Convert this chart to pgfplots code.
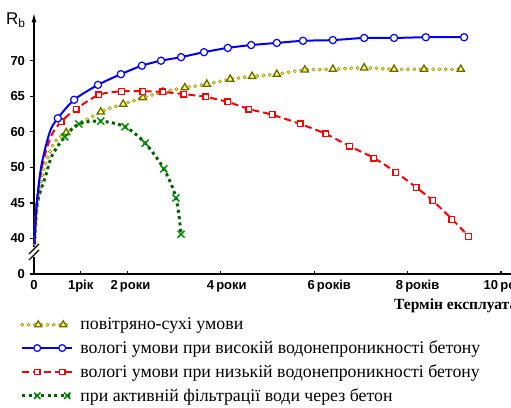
\documentclass[border=0pt]{standalone}
\usepackage{fontspec}
\setmainfont{Liberation Serif}
\setsansfont{Liberation Sans}
\usepackage{pgfplots}
\pgfplotsset{compat=1.18}
\usepackage{pgfplotstable}
\usetikzlibrary{arrows.meta}

\definecolor{myyellow}{RGB}{255,255,0}
\definecolor{myolive}{RGB}{105,105,0}
\definecolor{mygreen}{RGB}{0,140,0}
\definecolor{mydkgreen}{RGB}{0,100,0}
\definecolor{myred}{RGB}{255,0,0}
\definecolor{myblue}{RGB}{0,0,255}

% y values are in the chart's drawn scale: tick "0" at 40, "40" at 45, "45" at 50, "50" at 55, "60" at 60, "65" at 65, "70" at 70
\pgfplotstableread{
x y
0.01 44.2
0.06 50.0
0.16 55.3
0.34 60.0
0.51 61.9
0.86 64.5
1.37 66.6
1.86 68.1
2.31 69.3
2.72 70.0
3.15 70.5
3.64 71.2
4.15 71.8
4.65 72.2
5.20 72.5
5.76 72.8
6.40 72.9
7.07 73.2
7.71 73.2
8.39 73.3
9.21 73.3
}\tblue

\pgfplotstableread{
x y
0.01 44.2
0.06 50.0
0.17 55.0
0.36 59.3
0.58 61.4
0.90 63.2
1.39 65.2
1.88 65.7
2.33 65.7
2.76 65.6
3.21 65.3
3.68 64.9
4.15 64.2
4.60 63.2
5.10 62.4
5.70 61.1
6.25 59.7
6.75 58.0
7.28 56.3
7.75 54.3
8.18 52.2
8.54 50.3
8.95 47.7
9.31 45.3
}\tred

\pgfplotstableread{
x y
0.01 44.2
0.08 50.0
0.20 54.5
0.42 58.3
0.69 59.9
1.43 62.8
1.91 63.9
2.33 64.8
2.76 65.6
3.23 66.2
3.70 66.7
4.20 67.4
4.67 67.8
5.20 68.1
5.80 68.7
6.40 68.8
7.07 69.0
7.71 68.8
8.35 68.8
9.14 68.8
}\tyellow

\pgfplotstableread{
x y
0.01 44.2
0.06 49.7
0.24 53.6
0.39 56.7
0.66 59.3
0.96 61.1
1.43 61.5
1.95 60.7
2.38 58.4
2.78 54.8
3.04 50.7
3.15 45.6
}\tgreen

\tikzset{
  yelout/.style={myolive, line width=3.8pt, line cap=round, dash pattern=on 0pt off 6.3pt},
  yelin/.style={myyellow, line width=2.4pt, line cap=round, dash pattern=on 0pt off 6.3pt},
  bluel/.style={myblue, line width=2pt},
  redl/.style={myred, line width=2pt, dash pattern=on 7pt off 4pt},
  greenl/.style={mydkgreen, line width=3pt, dash pattern=on 3pt off 3.4pt},
}

\begin{document}
\begin{tikzpicture}
\useasboundingbox (0pt,0pt) rectangle (511pt,407pt);
\clip (0pt,0pt) rectangle (511pt,407pt);
\begin{axis}[
  at={(34pt,133pt)}, anchor=south west,
  x=46.7pt, y=7.11pt,
  xmin=0, xmax=10.6, ymin=40, ymax=76.8,
  axis lines=left,
  axis line style={line width=1.6pt, black},
  x axis line style={-},
  y axis line style={-{Latex[length=10pt,width=5pt]}},
  clip=false,
  xtick={0,1,2,4,6,8,10},
  xticklabels={0,1рік,\hspace*{6pt}2\,роки,\hspace*{12pt}4\,роки,\hspace*{30pt}6\,років,\hspace*{20pt}8\,років,\hspace*{16pt}10\,років},
  ytick={40,45,50,55,60,65,70},
  yticklabels={0,40,45,50,60,65,70},
  xtick align=inside, ytick align=outside,
  major tick length=3.5pt,
  tick style={line width=1.2pt, black},
  tick label style={font=\fontsize{13}{15}\selectfont\sffamily\bfseries},
  xticklabel style={anchor=north, yshift=-3pt},
  yticklabel style={anchor=east, xshift=-2pt},
  legend style={at={(-0.028,-0.16)}, anchor=north west, draw=none, fill=none,
    inner sep=0pt, font=\fontsize{17.8}{21}\selectfont, row sep=5.6pt,
    cells={anchor=west}},
  legend cell align=left,
]
% lines
\addplot[yelout, smooth, forget plot] table {\tyellow};
\addplot[yelin, smooth, forget plot] table {\tyellow};
\addplot[greenl, smooth, forget plot] table {\tgreen};
\addplot[redl, smooth, forget plot] table {\tred};
\addplot[bluel, smooth, forget plot] table {\tblue};
% marks
\addplot[only marks, mark=triangle*, mark size=4.2pt, mark options={solid, draw=myolive, fill=myyellow!55!white, line width=1.3pt}, skip coords between index={0}{4}, forget plot] table {\tyellow};
\addplot[only marks, mark=x, mark size=5pt, mark options={solid, draw=mygreen, line width=1.5pt}, skip coords between index={0}{4}, forget plot] table {\tgreen};
\addplot[only marks, mark=square*, mark size=2.9pt, mark options={solid, draw=myred, fill=white, line width=1.2pt}, skip coords between index={0}{4}, forget plot] table {\tred};
\addplot[only marks, mark=*, mark size=3.6pt, mark options={solid, draw=myblue, fill=white, line width=1.2pt}, skip coords between index={0}{4}, forget plot] table {\tblue};

\addlegendimage{legend image code/.code={
  \draw[yelout] (0pt,0pt) -- (50pt,0pt);
  \draw[yelin] (0pt,0pt) -- (50pt,0pt);
  \draw plot[only marks, mark=triangle*, mark size=4pt, mark options={draw=myolive, fill=myyellow!55!white, line width=1.2pt}] coordinates {(16pt,0pt) (41pt,0pt)};
  \path (56pt,0pt);
}}
\addlegendentry{повітряно-сухі умови}
\addlegendimage{legend image code/.code={
  \draw[bluel] (0pt,0pt) -- (50pt,0pt);
  \draw plot[only marks, mark=*, mark size=3.4pt, mark options={draw=myblue, fill=white, line width=1.2pt}] coordinates {(15pt,0pt) (40pt,0pt)};
  \path (56pt,0pt);
}}
\addlegendentry{вологі умови при високій водонепроникності бетону}
\addlegendimage{legend image code/.code={
  \draw[redl] (0pt,0pt) -- (50pt,0pt);
  \draw plot[only marks, mark=square*, mark size=2.8pt, mark options={draw=myred, fill=white, line width=1.2pt}] coordinates {(15pt,0pt) (40pt,0pt)};
  \path (56pt,0pt);
}}
\addlegendentry{вологі умови при низькій водонепроникності бетону}
\addlegendimage{legend image code/.code={
  \draw[greenl] (0pt,0pt) -- (50pt,0pt);
  \draw plot[only marks, mark=x, mark size=4.5pt, mark options={draw=mygreen, line width=1.5pt}] coordinates {(15pt,0pt) (45pt,0pt)};
  \path (56pt,0pt);
}}
\addlegendentry{при активній фільтрації води через бетон}
\end{axis}
% axis break
\fill[white] (30pt,150pt) rectangle (38pt,160pt);
\draw[line width=1.3pt] (29pt,147pt) -- (39pt,157pt);
\draw[line width=1.3pt] (29pt,153pt) -- (39pt,163pt);
% y label
\node[anchor=base west, inner sep=0pt, font=\fontsize{17}{19}\selectfont\sffamily] at (6pt,382pt) {R\textsubscript{b}};
% x label
\node[anchor=base west, inner sep=0pt, font=\fontsize{15.5}{17}\selectfont\bfseries] at (394pt,97pt) {Термін експлуатації, роки};
\end{tikzpicture}
\end{document}
